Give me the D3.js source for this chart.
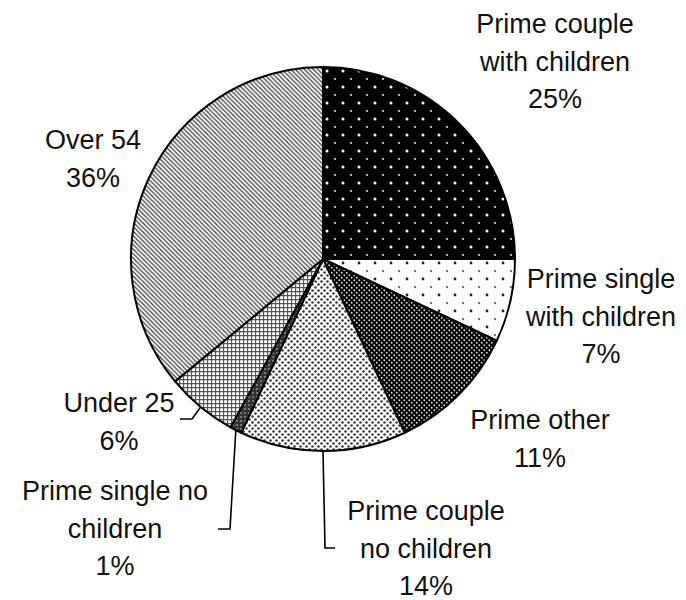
<!DOCTYPE html>
<head>
  <meta charset="utf-8">
  <script src="https://d3js.org/d3.v7.min.js"></script>
  <style>
    body { margin: 0; background: #fff; }
    .label { font-family: "Liberation Sans", Arial, sans-serif; font-size: 27px; fill: #111; }
  </style>
</head>
<body>
  <div id="vis"></div>
  <script>

    // categories, clockwise from 12 o'clock
    var categories = ["Prime couple with children", "Prime single with children", "Prime other",
      "Prime couple no children", "Prime single no children", "Under 25", "Over 54"];
    var values = [25, 7, 11, 14, 1, 6, 36];
    var labelLines = [
      ["Prime couple", "with children", "25%"],
      ["Prime single", "with children", "7%"],
      ["Prime other", "11%"],
      ["Prime couple", "no children", "14%"],
      ["Prime single no", "children", "1%"],
      ["Under 25", "6%"],
      ["Over 54", "36%"]
    ];

    // label layout: centre x, first baseline, optional leader elbow
    var labelPos = [
      { x: 555, y: 33 },
      { x: 601, y: 288 },
      { x: 540, y: 429 },
      { x: 426, y: 520, leader: [[325, 548], [335, 548]] },
      { x: 115, y: 500, leader: [[230, 529], [218, 529]] },
      { x: 119, y: 412, leader: [[192, 419], [180, 419]] },
      { x: 93, y: 149 }
    ];

    var width = 686, height = 600,
      cx = 323, cy = 259, radius = 192, lineH = 37.5;

    var svg = d3.select("#vis")
      .append("svg")
      .attr("width", width)
      .attr("height", height);

    ////////// fill patterns //////////
    var defs = svg.append("defs");

    function pattern(id, size, bg) {
      var p = defs.append("pattern")
        .attr("id", id)
        .attr("patternUnits", "userSpaceOnUse")
        .attr("width", size)
        .attr("height", size);
      p.append("rect").attr("width", size).attr("height", size).attr("fill", bg);
      return p;
    }

    function dots(p, pts, r, color) {
      pts.forEach(function (d) {
        p.append("circle").attr("cx", d[0]).attr("cy", d[1]).attr("r", r).attr("fill", color);
      });
    }

    var p0 = pattern("p0", 16, "#000");
    dots(p0, [[4, 4]], 1.5, "#fff");
    dots(p0, [[12, 12]], 1.1, "#ddd");

    var p1 = pattern("p1", 16, "#fff");
    dots(p1, [[4, 4]], 1.4, "#222");
    dots(p1, [[12, 12]], 1.1, "#555");

    var p2 = pattern("p2", 5, "#000");
    dots(p2, [[1.25, 1.25], [3.75, 3.75]], 0.9, "#ddd");

    var p3 = pattern("p3", 6, "#fff");
    dots(p3, [[1.5, 1.5], [4.5, 4.5]], 1.25, "#333");

    var p4 = pattern("p4", 4, "#333");
    dots(p4, [[2, 2]], 0.8, "#ccc");

    var p5 = pattern("p5", 4, "#fff");
    p5.append("path")
      .attr("d", "M0,0.5H4M0.5,0V4")
      .attr("stroke", "#555")
      .attr("stroke-width", 1.3);

    var p6 = pattern("p6", 4.5, "#fff");
    p6.append("path")
      .attr("d", "M0,0L4.5,4.5M-1,3.5L1,5.5M3.5,-1L5.5,1")
      .attr("stroke", "#444")
      .attr("stroke-width", 1.3);

    var fills = ["url(#p0)", "url(#p1)", "url(#p2)", "url(#p3)", "url(#p4)", "url(#p5)", "url(#p6)"];

    ////////// pie //////////
    var pie = d3.pie().sort(null).value(function (d) { return d; });
    var arcs = pie(values);

    var arc = d3.arc().innerRadius(0).outerRadius(radius);
    var edge = d3.arc().innerRadius(radius).outerRadius(radius);

    var g = svg.append("g")
      .attr("transform", "translate(" + cx + "," + cy + ")");

    g.selectAll("path.slice")
      .data(arcs)
      .enter().append("path")
      .attr("class", "slice")
      .attr("d", arc)
      .attr("fill", function (d, i) { return fills[i]; })
      .attr("stroke", "#000")
      .attr("stroke-width", 2)
      .attr("stroke-linejoin", "round");

    ////////// leaders & labels //////////
    arcs.forEach(function (d, i) {
      var pos = labelPos[i];
      if (pos.leader) {
        var c = edge.centroid(d);
        var pts = [[cx + c[0], cy + c[1]]].concat(pos.leader);
        svg.append("path")
          .attr("d", d3.line()(pts))
          .attr("fill", "none")
          .attr("stroke", "#000")
          .attr("stroke-width", 1.6);
      }

      var t = svg.append("text")
        .attr("class", "label")
        .attr("text-anchor", "middle");
      labelLines[i].forEach(function (s, j) {
        t.append("tspan")
          .attr("x", pos.x)
          .attr("y", pos.y + j * lineH)
          .text(s);
      });
    });

  </script>
</body>
